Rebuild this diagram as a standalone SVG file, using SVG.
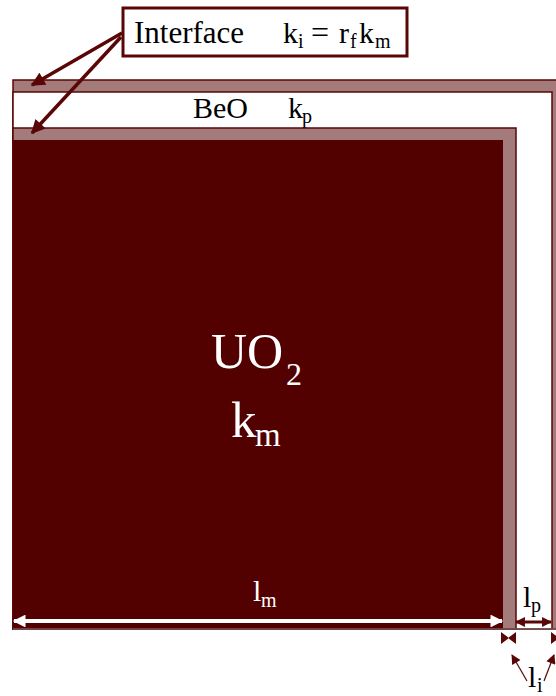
<svg xmlns="http://www.w3.org/2000/svg" width="556" height="696" viewBox="0 0 556 696">
<defs>
<style>
text{font-family:"Liberation Serif","Times New Roman","DejaVu Serif",serif;}
.band{fill:#a47b7b;stroke:#5a0606;stroke-width:1.5;}
.lead{stroke:#5a0606;stroke-width:3.5;fill:none;}
.thin{stroke:#5a0606;stroke-width:1.2;fill:none;}
.dk{fill:#5a0606;}
</style>
<marker id="ah" viewBox="0 0 10 10" refX="9" refY="5" markerWidth="4.2" markerHeight="4" orient="auto" markerUnits="strokeWidth">
<path d="M0,0 L10,5 L0,10 z" class="dk"/>
</marker>
<marker id="ahs" viewBox="0 0 10 10" refX="9" refY="5" markerWidth="9" markerHeight="8" orient="auto" markerUnits="strokeWidth">
<path d="M0,0 L10,5 L0,10 z" class="dk"/>
</marker>
<marker id="aw" viewBox="0 0 10 10" refX="9" refY="5" markerWidth="3.5" markerHeight="3.2" orient="auto-start-reverse" markerUnits="strokeWidth">
<path d="M0,0 L10,5 L0,10 z" fill="#ffffff"/>
</marker>
<marker id="ap" viewBox="0 0 10 10" refX="9" refY="5" markerWidth="3.3" markerHeight="3.3" orient="auto-start-reverse" markerUnits="strokeWidth">
<path d="M0,0 L10,5 L0,10 z" class="dk"/>
</marker>
</defs>

<g id="outer-interface">
<rect class="band" x="13" y="80" width="552" height="549"/>
</g>
<g id="beo">
<rect x="13" y="92" width="539" height="537" fill="#ffffff" stroke="#5a0606" stroke-width="1.5"/>
<text x="193" y="118" font-size="30" fill="#000" font-family="Liberation Serif, serif">BeO</text>
<text x="288" y="118" font-size="30" fill="#000" font-family="Liberation Serif, serif">k</text>
<text x="302" y="123" font-size="20" fill="#000" font-family="Liberation Serif, serif">p</text>
</g>
<g id="inner-interface">
<rect class="band" x="13" y="128" width="503" height="501"/>
</g>
<g id="uo2">
<rect x="13" y="140" width="490" height="489" fill="#520000"/>
<text x="211" y="368" font-size="50" fill="#ffffff" font-family="Liberation Serif, serif">UO</text>
<text x="286" y="385" font-size="32" fill="#ffffff" font-family="Liberation Serif, serif">2</text>
<text x="231" y="437" font-size="51" fill="#ffffff" font-family="Liberation Serif, serif">k</text>
<text x="255" y="446" font-size="33" fill="#ffffff" font-family="Liberation Serif, serif">m</text>
</g>
<line x1="13" y1="629" x2="556" y2="629" stroke="#7a5a5a" stroke-width="1.5"/>

<g id="label-interface">
<rect x="123" y="8" width="284" height="48" fill="#ffffff" stroke="#5a0606" stroke-width="3"/>
<text x="134" y="43" font-size="31" fill="#000" font-family="Liberation Serif, serif">Interface</text>
<text x="283" y="43" font-size="30" fill="#000" font-family="Liberation Serif, serif">k</text>
<text x="298" y="48" font-size="20" fill="#000" font-family="Liberation Serif, serif">i</text>
<text x="311" y="43" font-size="32" fill="#000" font-family="Liberation Serif, serif">=</text>
<text x="339" y="43" font-size="30" fill="#000" font-family="Liberation Serif, serif">r</text>
<text x="350" y="48" font-size="20" fill="#000" font-family="Liberation Serif, serif">f</text>
<text x="359" y="43" font-size="30" fill="#000" font-family="Liberation Serif, serif">k</text>
<text x="375" y="48" font-size="20" fill="#000" font-family="Liberation Serif, serif">m</text>
</g>

<g id="connectors">
<line class="lead" x1="122" y1="33" x2="32" y2="85" marker-end="url(#ah)"/>
<line class="lead" x1="121" y1="37" x2="32" y2="133" marker-end="url(#ah)"/>
<line x1="14" y1="621" x2="502" y2="621" stroke="#ffffff" stroke-width="4" marker-start="url(#aw)" marker-end="url(#aw)"/>
<line x1="516" y1="622" x2="551" y2="622" stroke="#5a0606" stroke-width="3" marker-start="url(#ap)" marker-end="url(#ap)"/>
<path class="dk" d="M501,632 L509,638 L501,644 Z M516,632 L508,638 L516,644 Z M551,632 L559,638 L551,644 Z"/>
<line class="thin" x1="527" y1="681" x2="512" y2="655" marker-end="url(#ahs)"/>
<line class="thin" x1="544" y1="681" x2="554" y2="655" marker-end="url(#ahs)"/>
</g>

<g id="dim-labels">
<text x="253" y="601" font-size="30" fill="#ffffff" font-family="Liberation Serif, serif">l</text>
<text x="261" y="607" font-size="20" fill="#ffffff" font-family="Liberation Serif, serif">m</text>
<text x="523" y="607" font-size="30" fill="#000" font-family="Liberation Serif, serif">l</text>
<text x="531" y="612" font-size="20" fill="#000" font-family="Liberation Serif, serif">p</text>
<text x="528" y="687" font-size="30" fill="#000" font-family="Liberation Serif, serif">l</text>
<text x="537" y="692" font-size="20" fill="#000" font-family="Liberation Serif, serif">i</text>
</g>
</svg>
